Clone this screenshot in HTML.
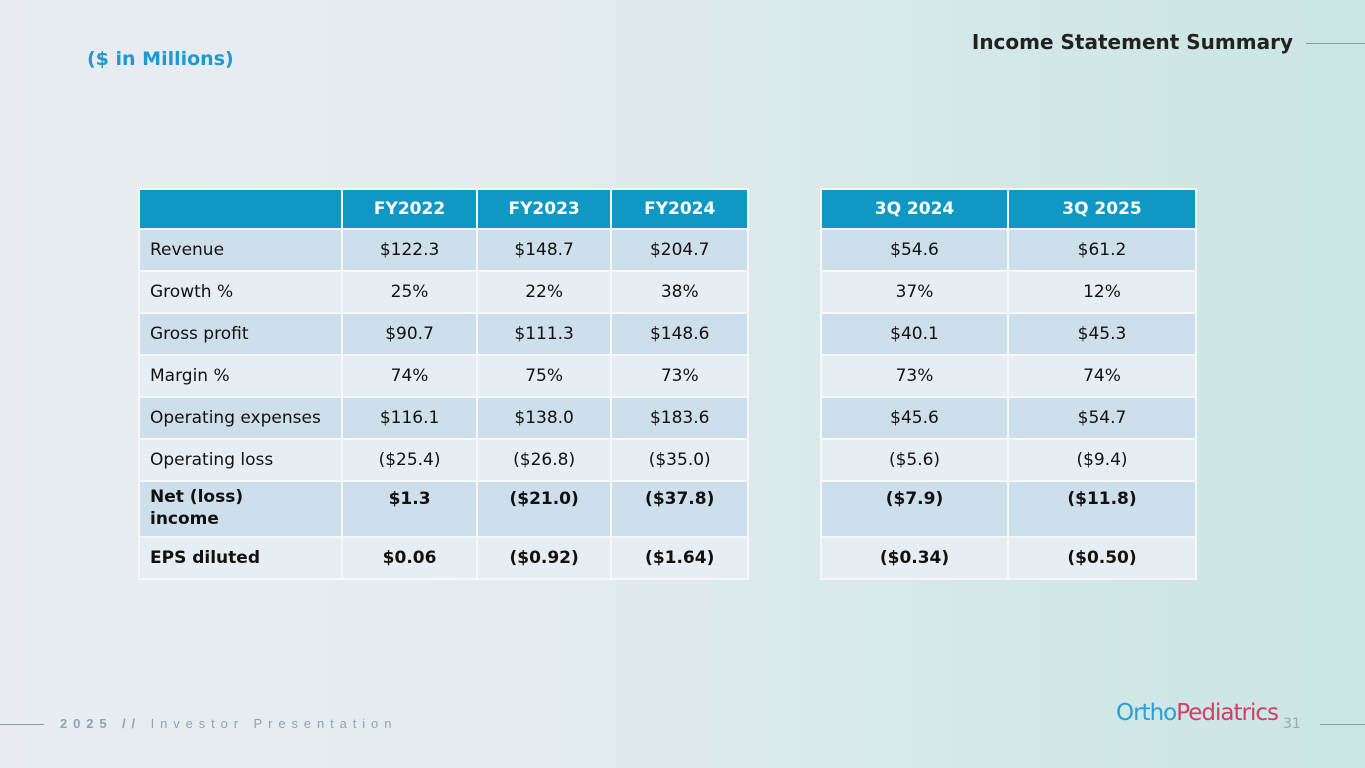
<html><head><style>
body{margin:0;width:1365px;height:768px;overflow:hidden;font-family:"DejaVu Sans","Liberation Sans",sans-serif;background:linear-gradient(90deg,#e9edf2 0%,#e3ebef 40%,#d3e8e8 75%,#c9e6e2 100%);position:relative}
.t{position:absolute;border-collapse:collapse;font-size:17px;color:#111}
.t td{border:2px solid #f4f8fa;height:42px;text-align:center;padding:0;box-sizing:border-box}
.t tr.h td{background:#0f98c3;color:#fff;font-weight:bold;height:40px}
.t tr.d td{background:#cddfea}
.t tr.l td{background:#e7eef3}
.t td.lab{text-align:left;padding-left:10px}
.b td{font-weight:bold}
.n td{height:56px;vertical-align:top;padding-top:7px}
</style></head><body>
<div style="position:absolute;left:87px;top:48px;color:#1e9ad0;font-weight:bold;font-size:19px">($ in Millions)</div>
<div style="position:absolute;right:72px;top:30px;color:#222;font-weight:bold;font-size:20px">Income Statement Summary</div>
<div style="position:absolute;left:1306px;top:43px;width:59px;height:1px;background:#8a9aa3"></div>
<table class="t" style="left:138px;top:188px;width:611px">
<colgroup><col style="width:204px"><col style="width:135px"><col style="width:135px"><col style="width:137px"></colgroup>
<tr class="h"><td></td><td>FY2022</td><td>FY2023</td><td>FY2024</td></tr>
<tr class="d"><td class="lab">Revenue</td><td>$122.3</td><td>$148.7</td><td>$204.7</td></tr>
<tr class="l"><td class="lab">Growth %</td><td>25%</td><td>22%</td><td>38%</td></tr>
<tr class="d"><td class="lab">Gross profit</td><td>$90.7</td><td>$111.3</td><td>$148.6</td></tr>
<tr class="l"><td class="lab">Margin %</td><td>74%</td><td>75%</td><td>73%</td></tr>
<tr class="d"><td class="lab">Operating expenses</td><td>$116.1</td><td>$138.0</td><td>$183.6</td></tr>
<tr class="l"><td class="lab">Operating loss</td><td>($25.4)</td><td>($26.8)</td><td>($35.0)</td></tr>
<tr class="d b n"><td class="lab" style="line-height:22px;padding-top:4px">Net (loss)<br>income</td><td>$1.3</td><td>($21.0)</td><td>($37.8)</td></tr>
<tr class="l b"><td class="lab">EPS diluted</td><td>$0.06</td><td>($0.92)</td><td>($1.64)</td></tr>
</table>
<table class="t" style="left:820px;top:188px;width:377px">
<colgroup><col style="width:188px"><col style="width:189px"></colgroup>
<tr class="h"><td>3Q 2024</td><td>3Q 2025</td></tr>
<tr class="d"><td>$54.6</td><td>$61.2</td></tr>
<tr class="l"><td>37%</td><td>12%</td></tr>
<tr class="d"><td>$40.1</td><td>$45.3</td></tr>
<tr class="l"><td>73%</td><td>74%</td></tr>
<tr class="d"><td>$45.6</td><td>$54.7</td></tr>
<tr class="l"><td>($5.6)</td><td>($9.4)</td></tr>
<tr class="d b n"><td>($7.9)</td><td>($11.8)</td></tr>
<tr class="l b"><td>($0.34)</td><td>($0.50)</td></tr>
</table>
<div style="position:absolute;left:0;top:724px;width:44px;height:1px;background:#8a9aa3"></div>
<div style="position:absolute;left:60px;top:716px;font-size:13px;letter-spacing:5.9px;color:#8fa3b0;font-family:'Liberation Sans',sans-serif"><b>2025 //</b> Investor Presentation</div>
<div style="position:absolute;left:1116px;top:700px;font-size:23px;font-family:'DejaVu Sans',sans-serif;letter-spacing:-1px"><span style="color:#2b9fd6">Ortho</span><span style="color:#d63a66">Pediatrics</span></div>
<div style="position:absolute;left:1283px;top:716px;font-size:14px;color:#9aa8b0">31</div>
<div style="position:absolute;left:1320px;top:724px;width:45px;height:1px;background:#8a9aa3"></div>
</body></html>
